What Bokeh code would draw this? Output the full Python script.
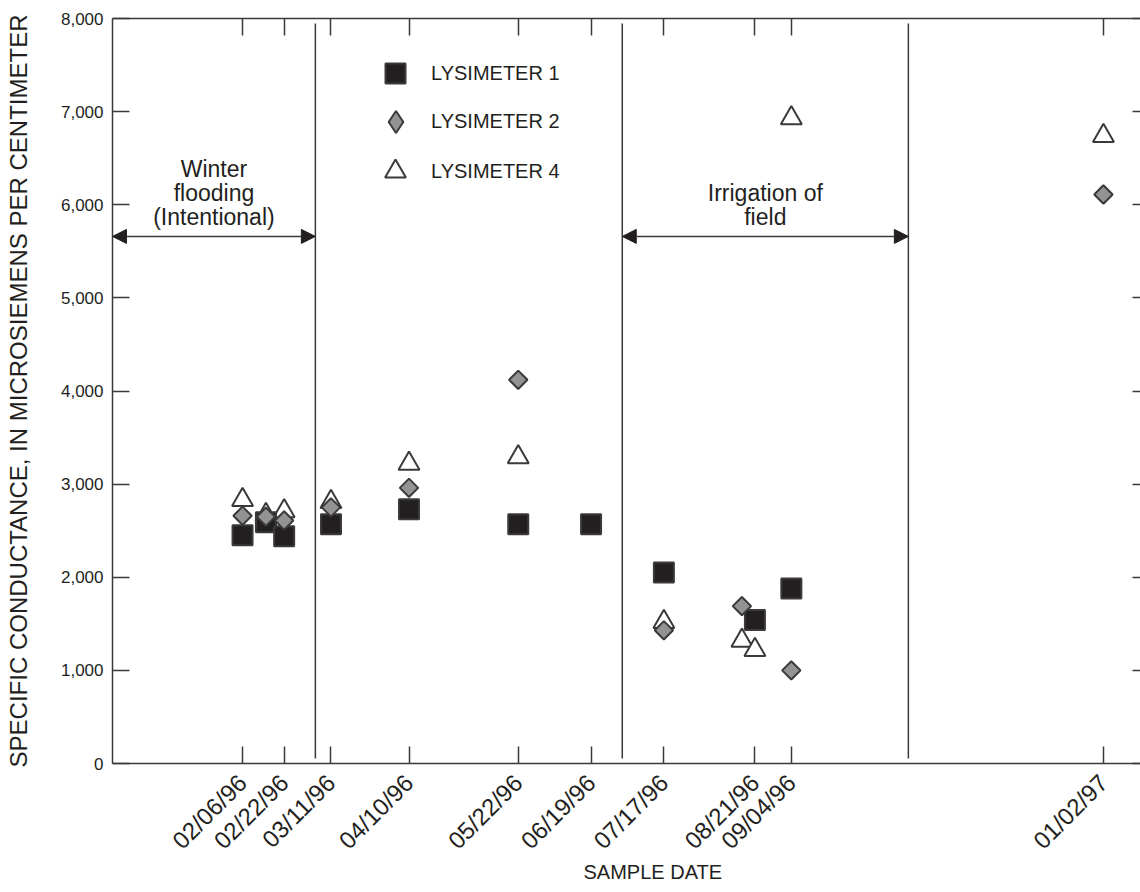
import math
from datetime import datetime

from bokeh.plotting import figure
from bokeh.models import (Range1d, DatetimeAxis, LinearAxis, FixedTicker, DatetimeTickFormatter,
                          NumeralTickFormatter, Arrow, NormalHead, Legend, LegendItem, Title)
from bokeh.core.properties import value
from bokeh.embed import file_html
from bokeh.resources import INLINE

# ---------------- data ----------------
lys1_dates = ["1996-02-06", "1996-02-15", "1996-02-22", "1996-03-11", "1996-04-10",
              "1996-05-22", "1996-06-19", "1996-07-17", "1996-08-21", "1996-09-04"]
lys1_values = [2450, 2590, 2440, 2570, 2730, 2570, 2570, 2050, 1540, 1880]

lys2_dates = ["1996-02-06", "1996-02-15", "1996-02-22", "1996-03-11", "1996-04-10",
              "1996-05-22", "1996-07-17", "1996-08-16", "1996-09-04", "1997-01-02"]
lys2_values = [2660, 2650, 2610, 2750, 2960, 4120, 1430, 1690, 1000, 6110]

lys4_dates = ["1996-02-06", "1996-02-15", "1996-02-22", "1996-03-11", "1996-04-10",
              "1996-05-22", "1996-07-17", "1996-08-16", "1996-08-21", "1996-09-04", "1997-01-02"]
lys4_values = [2830, 2670, 2710, 2810, 3220, 3290, 1520, 1320, 1220, 6930, 6740]

tick_dates = ["1996-02-06", "1996-02-22", "1996-03-11", "1996-04-10", "1996-05-22",
              "1996-06-19", "1996-07-17", "1996-08-21", "1996-09-04", "1997-01-02"]
y_ticks = [0, 1000, 2000, 3000, 4000, 5000, 6000, 7000, 8000]

x_start_date = "1995-12-18"
x_end_date = "1997-01-16 06:00"
period_bounds = ["1996-03-05", "1996-07-01", "1996-10-19"]
period_labels = [["Winter", "flooding", "(Intentional)"], ["Irrigation of", "field"]]
period_arrow_level = 5660

series_names = ["LYSIMETER 1", "LYSIMETER 2", "LYSIMETER 4"]


def ms(s):
    fmt = "%Y-%m-%d %H:%M" if " " in s else "%Y-%m-%d"
    return (datetime.strptime(s, fmt) - datetime(1970, 1, 1)).total_seconds() * 1000.0


FONT = "Liberation Sans"
INK = "#231f20"
LINE = "#3a3a3a"

x0, x1 = ms(x_start_date), ms(x_end_date)
p = figure(frame_width=1028, frame_height=745,
           x_range=Range1d(x0, x1), y_range=Range1d(0, 8000),
           x_axis_type=None, y_axis_type=None,
           output_backend="svg", toolbar_location=None,
           min_border_left=112, min_border_right=0, min_border_top=18, min_border_bottom=128,
           background_fill_color="white", border_fill_color="white")
p.outline_line_color = None
p.xgrid.visible = False
p.ygrid.visible = False

tick_ms = [ms(d) for d in tick_dates]
fmt = "%m/%d/%y"
dt_fmt = DatetimeTickFormatter(microseconds=fmt, milliseconds=fmt, seconds=fmt, minsec=fmt,
                               minutes=fmt, hourmin=fmt, hours=fmt, days=fmt, months=fmt, years=fmt)

# bottom axis
xb = DatetimeAxis(ticker=FixedTicker(ticks=tick_ms, minor_ticks=[]), formatter=dt_fmt)
xb.major_label_orientation = math.pi / 4
xb.major_tick_in = 17
xb.major_tick_out = 0
xb.minor_tick_in = 0
xb.minor_tick_out = 0
xb.major_label_standoff = 15
xb.major_label_text_font = FONT
xb.major_label_text_font_size = "24px"
xb.major_label_text_color = INK
xb.axis_line_color = LINE
xb.axis_line_width = 1.5
xb.major_tick_line_color = LINE
xb.major_tick_line_width = 1.5
p.add_layout(xb, "below")

p.add_layout(Title(text="SAMPLE DATE", align="left", offset=471, standoff=-16,
                   text_font=FONT, text_font_size="20px", text_font_style="normal",
                   text_color=INK), "below")

# top axis (ticks only)
xt = DatetimeAxis(ticker=FixedTicker(ticks=tick_ms, minor_ticks=[]), formatter=dt_fmt)
xt.major_label_overrides = {t: "" for t in tick_ms}
xt.major_label_text_font_size = "0px"
xt.major_label_standoff = 0
xt.major_tick_in = 17
xt.major_tick_out = 0
xt.minor_tick_in = 0
xt.minor_tick_out = 0
xt.axis_line_color = LINE
xt.axis_line_width = 1.5
xt.major_tick_line_color = LINE
xt.major_tick_line_width = 1.5
p.add_layout(xt, "above")

# left axis
yl = LinearAxis(ticker=FixedTicker(ticks=y_ticks, minor_ticks=[]),
                formatter=NumeralTickFormatter(format="0,0"))
yl.major_tick_in = 17
yl.major_tick_out = 0
yl.minor_tick_in = 0
yl.minor_tick_out = 0
yl.major_label_standoff = 9
yl.major_label_text_font = FONT
yl.major_label_text_font_size = "17px"
yl.major_label_text_color = INK
yl.axis_label = "SPECIFIC CONDUCTANCE, IN MICROSIEMENS PER CENTIMETER"
yl.axis_label_text_font = FONT
yl.axis_label_text_font_size = "24px"
yl.axis_label_text_font_style = "normal"
yl.axis_label_text_color = INK
yl.axis_label_standoff = 26
yl.axis_line_color = LINE
yl.axis_line_width = 1.5
yl.major_tick_line_color = LINE
yl.major_tick_line_width = 1.5
p.add_layout(yl, "left")

# right axis (ticks only)
yr = LinearAxis(ticker=FixedTicker(ticks=y_ticks, minor_ticks=[]))
yr.major_label_overrides = {t: "" for t in y_ticks}
yr.major_label_text_font_size = "0px"
yr.major_label_standoff = 0
yr.major_tick_in = 8
yr.major_tick_out = 0
yr.minor_tick_in = 0
yr.minor_tick_out = 0
yr.axis_line_color = None
yr.major_tick_line_color = LINE
yr.major_tick_line_width = 1.5
p.add_layout(yr, "right")

# period dividers
bounds_ms = [ms(d) for d in period_bounds]
p.segment(x0=bounds_ms, y0=[55] * 3, x1=bounds_ms, y1=[7945] * 3,
          line_color=LINE, line_width=1.5)

# period arrows and labels
spans = [(x0, bounds_ms[0]), (bounds_ms[1], bounds_ms[2])]
for (a, b), lines in zip(spans, period_labels):
    p.add_layout(Arrow(start=NormalHead(size=14, fill_color=INK, line_color=INK),
                       end=NormalHead(size=14, fill_color=INK, line_color=INK),
                       x_start=a, y_start=period_arrow_level, x_end=b, y_end=period_arrow_level,
                       line_color=LINE, line_width=1.5))
    n = len(lines)
    offs = [-19 - 24 * (n - 1 - i) for i in range(n)]
    p.text(x=[(a + b) / 2] * n, y=[period_arrow_level] * n, text=lines, y_offset=offs,
           text_align="center", text_baseline="middle", text_font=value(FONT),
           text_font_size="23px", text_color=INK)

# data
r4 = p.scatter([ms(d) for d in lys4_dates], lys4_values, marker="triangle", size=21,
               fill_color="white", line_color=LINE, line_width=2)
r1 = p.scatter([ms(d) for d in lys1_dates], lys1_values, marker="square", size=20,
               fill_color=INK, line_color=LINE, line_width=2)
r2 = p.scatter([ms(d) for d in lys2_dates], lys2_values, marker="square", angle=math.pi / 4,
               size=13, fill_color="#939393", line_color=LINE, line_width=2)
# legend key for lysimeter 2 (diamond shape; legend keys are drawn unrotated)
r2_key = p.scatter([ms(d) for d in lys2_dates], lys2_values, marker="diamond", size=22,
                   fill_color="#939393", line_color=LINE, line_width=2, visible=False)

# legends (one per entry so each marker keeps its own size)
leg_specs = [(r1, series_names[0], 50, (258, 665), 11),
             (r2_key, series_names[1], 55, (256, 614), 8),
             (r4, series_names[2], 52, (257, 566), 10)]
for rend, name, g, loc, st in leg_specs:
    lg = Legend(items=[LegendItem(label=name, renderers=[rend])], location=loc,
                glyph_width=g, glyph_height=g, label_height=16, label_standoff=st,
                padding=0, margin=0, spacing=0, border_line_color=None,
                background_fill_alpha=0, label_text_font=FONT,
                label_text_font_size="20px", label_text_color=INK)
    p.add_layout(lg)

open("out.html", "w").write(file_html(p, INLINE))
